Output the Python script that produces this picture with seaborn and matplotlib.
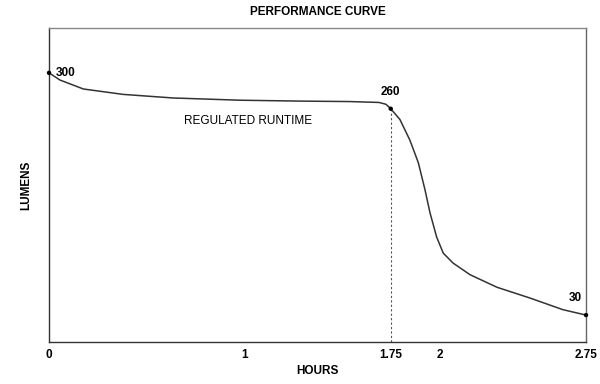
import matplotlib
matplotlib.use('Agg')
import matplotlib.pyplot as plt
import seaborn as sns
import pandas as pd

# ── Data ───────────────────────────────────────────────────────────────────
hours = [0.0, 0.056, 0.176, 0.379, 0.635, 0.978, 1.29, 1.54, 1.69, 1.725,
         1.75, 1.797, 1.848, 1.891, 1.925, 1.951, 1.985, 2.019, 2.069,
         2.156, 2.294, 2.463, 2.632, 2.75]
lumens = [300, 292, 282, 276, 272, 269.5, 268.5, 268, 267, 265,
          260, 248, 225, 200, 170, 144, 117, 99, 88,
          75, 61, 49, 36, 30]

key_hours = [0.0, 1.75, 2.75]
key_lumens = [300, 260, 30]
key_labels = ['300', '260', '30']

tick_pos = [0, 1, 1.75, 2, 2.75]
tick_lbl = ['0', '1', '1.75', '2', '2.75']

sns.set_style('white')
plt.rcParams['font.family'] = ['Liberation Sans', 'DejaVu Sans']
plt.rcParams['text.color'] = 'black'
plt.rcParams['axes.labelcolor'] = 'black'
plt.rcParams['xtick.color'] = 'black'

df = pd.DataFrame({'hours': hours, 'lumens': lumens})
kdf = pd.DataFrame({'hours': key_hours, 'lumens': key_lumens})

fig = plt.figure(figsize=(6, 3.84), dpi=100)
ax = fig.add_axes([0.0817, 0.1094, 0.895, 0.8177])

sns.lineplot(data=df, x='hours', y='lumens', ax=ax, color='#333333',
             linewidth=1.1, clip_on=False)
sns.scatterplot(data=kdf, x='hours', y='lumens', ax=ax, color='black',
                s=10, edgecolor='none', zorder=5, clip_on=False)

# dashed drop line at 1.75 h
ax.plot([1.75, 1.75], [0, 260], color='#555555', linestyle=(0, (2, 2)),
        linewidth=0.8)

# point labels
ax.annotate(key_labels[0], (key_hours[0], key_lumens[0]), xytext=(5, 0),
            textcoords='offset points', ha='left', va='center',
            fontsize=8.5, fontweight='bold')
ax.annotate(key_labels[1], (key_hours[1], key_lumens[1]), xytext=(0, 8),
            textcoords='offset points', ha='center', va='bottom',
            fontsize=8.5, fontweight='bold')
ax.annotate(key_labels[2], (key_hours[2], key_lumens[2]), xytext=(-3, 8),
            textcoords='offset points', ha='right', va='bottom',
            fontsize=8.5, fontweight='bold')
ax.text(0.69, 246, 'REGULATED RUNTIME', fontsize=8.5, ha='left', va='center')

ax.set_xlim(0, 2.75)
ax.set_ylim(0, 350)
ax.set_xticks(tick_pos)
ax.set_xticklabels(tick_lbl, fontsize=8.5, fontweight='bold')
ax.set_xticks([1, 2], minor=True)
ax.tick_params(axis='x', which='major', direction='out', length=3,
               width=0.8, color='#333333', pad=2)
ax.tick_params(axis='x', which='minor', direction='in', length=5,
               width=0.8, color='#333333')
ax.set_yticks([])

ax.set_xlabel('HOURS', fontsize=8.5, fontweight='bold', labelpad=3)
ax.set_ylabel('LUMENS', fontsize=8.5, fontweight='bold', labelpad=12)
ax.set_title('PERFORMANCE CURVE', fontsize=8.5, fontweight='bold', pad=9)

for side in ['left', 'bottom']:
    ax.spines[side].set_color('#333333')
    ax.spines[side].set_linewidth(1.0)
for side in ['top', 'right']:
    ax.spines[side].set_color('#888888')
    ax.spines[side].set_linewidth(1.0)
ax.spines['right'].set_color('#666666')

fig.savefig('out.png', dpi=100)
